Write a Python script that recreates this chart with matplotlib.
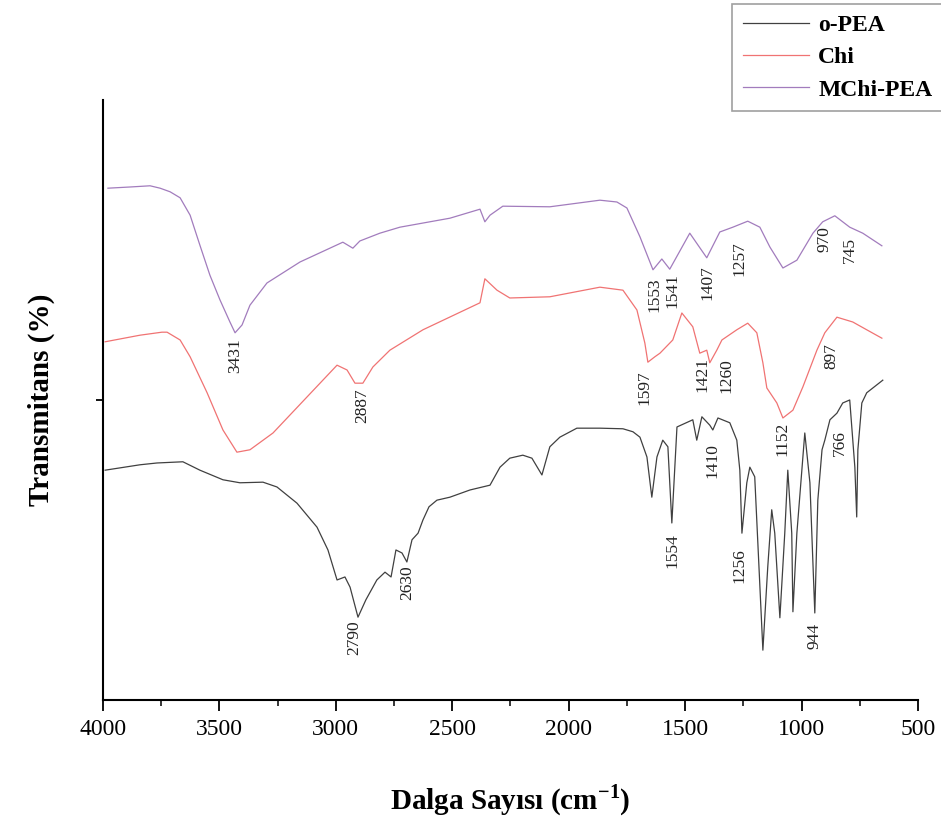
import matplotlib
matplotlib.use("Agg")
import matplotlib.pyplot as plt
from matplotlib.ticker import MultipleLocator

plt.rcParams['font.family'] = ['Liberation Serif', 'DejaVu Serif']

# MChi-PEA (mor)
wn_mchi = [3979, 3884, 3798, 3755, 3712, 3669, 3626, 3584, 3541, 3498, 3455, 3433, 3403,
           3369, 3296, 3154, 2970, 2927, 2897, 2811, 2725, 2510, 2381, 2360, 2338, 2283,
           2081, 1866, 1793, 1750, 1694, 1638, 1600, 1566, 1480, 1407, 1351, 1295, 1231,
           1179, 1136, 1080, 1020, 951, 909, 857, 793, 737, 655]
t_mchi = [85.3, 85.5, 85.7, 85.3, 84.7, 83.7, 80.8, 75.8, 70.8, 66.7, 63.0, 61.2, 62.5,
          65.8, 69.5, 73.0, 76.3, 75.3, 76.5, 77.8, 78.8, 80.3, 81.8, 79.7, 80.8, 82.3,
          82.2, 83.3, 83.0, 82.0, 77.2, 71.7, 73.5, 71.8, 77.8, 73.7, 78.0, 78.8, 79.8,
          78.8, 75.5, 72.0, 73.3, 77.8, 79.7, 80.7, 78.8, 77.8, 75.7]

# Chi (kirmizi)
wn_chi = [3991, 3841, 3747, 3725, 3669, 3626, 3553, 3485, 3425, 3369, 3270, 3124, 2995,
          2952, 2918, 2884, 2841, 2768, 2626, 2381, 2360, 2308, 2253, 2081, 1866, 1767,
          1707, 1673, 1660, 1630, 1608, 1553, 1514, 1467, 1437, 1407, 1394, 1364, 1342,
          1278, 1231, 1192, 1166, 1149, 1106, 1080, 1037, 994, 934, 900, 848, 780, 720, 655]
t_chi = [59.7, 60.8, 61.3, 61.3, 60.0, 57.2, 51.2, 45.0, 41.3, 41.7, 44.5, 50.5, 55.8,
         55.0, 52.8, 52.8, 55.5, 58.3, 61.7, 66.2, 70.2, 68.3, 67.0, 67.2, 68.8, 68.3,
         65.0, 59.5, 56.3, 57.2, 57.8, 60.0, 64.5, 62.2, 57.8, 58.3, 56.2, 58.3, 60.0,
         61.7, 62.8, 61.2, 56.2, 52.0, 49.5, 47.0, 48.3, 52.2, 58.3, 61.2, 63.8, 63.0, 61.7, 60.3]

# o-PEA (siyah)
wn_opea = [3991, 3841, 3768, 3657, 3584, 3485, 3412, 3313, 3253, 3167, 3081, 3034, 2995,
           2961, 2939, 2905, 2871, 2824, 2789, 2763, 2742, 2716, 2695, 2673, 2647, 2626,
           2600, 2566, 2510, 2424, 2338, 2295, 2253, 2197, 2158, 2115, 2081, 2038, 1965,
           1866, 1767, 1724, 1694, 1664, 1643, 1621, 1596, 1574, 1557, 1535, 1467, 1450,
           1428, 1394, 1381, 1359, 1308, 1278, 1265, 1256, 1235, 1222, 1201, 1166, 1145,
           1128, 1115, 1093, 1072, 1059, 1042, 1037, 1020, 986, 964, 943, 930, 912, 900,
           878, 848, 823, 793, 771, 763, 758, 741, 720, 651]
t_opea = [38.3, 39.2, 39.5, 39.7, 38.3, 36.7, 36.2, 36.3, 35.5, 32.8, 28.8, 25.0, 20.0,
          20.5, 18.8, 13.8, 16.7, 20.0, 21.3, 20.5, 25.0, 24.5, 23.0, 26.7, 27.8, 30.0,
          32.2, 33.3, 33.8, 35.0, 35.8, 38.8, 40.3, 40.8, 40.3, 37.5, 42.2, 43.8, 45.3,
          45.3, 45.2, 44.7, 43.8, 40.5, 33.8, 40.5, 43.3, 42.2, 29.5, 45.5, 46.7, 43.3,
          47.2, 45.8, 45.0, 47.0, 46.2, 43.3, 38.3, 27.8, 36.2, 38.8, 37.2, 8.3, 22.2,
          31.7, 27.8, 13.7, 27.8, 38.3, 27.8, 14.7, 27.8, 44.5, 36.2, 14.5, 33.3, 41.7, 43.3,
          46.7, 47.8, 49.5, 50.0, 38.8, 30.5, 41.7, 49.5, 51.2, 53.3]

# pik etiketleri
pik_yazi = ["3431", "2887", "2790", "2630", "1597", "1553", "1541", "1407", "1257", "970",
            "745", "1421", "1260", "897", "1152", "1410", "766", "1554", "1256", "944"]
pik_x = [3433, 2888, 2922, 2695, 1673, 1630, 1553, 1402, 1265, 900,
         793, 1424, 1321, 870, 1080, 1381, 836, 1553, 1265, 943]
pik_y = [60.3, 52.0, 13.2, 22.5, 55.0, 70.5, 71.2, 72.5, 76.5, 79.0,
         77.2, 57.2, 57.0, 59.5, 46.3, 42.8, 45.0, 27.8, 25.3, 12.8]

fig = plt.figure(figsize=(9.41, 8.23), dpi=100)
ax = fig.add_axes([0.1095, 0.1495, 0.866, 0.729])

l1, = ax.plot(wn_opea, t_opea, color='#404040', lw=0.9, label='o-PEA')
l2, = ax.plot(wn_chi, t_chi, color='#f07373', lw=0.9, label='Chi')
l3, = ax.plot(wn_mchi, t_mchi, color='#a27cbd', lw=0.9, label='MChi-PEA')

for s, x, y in zip(pik_yazi, pik_x, pik_y):
    ax.text(x, y, s, rotation=90, ha='center', va='top', fontsize=12.5, color='#222222')

ax.set_xlim(4000, 500)
ax.set_ylim(0, 100)
ax.xaxis.set_major_locator(MultipleLocator(500))
ax.xaxis.set_minor_locator(MultipleLocator(250))
ax.set_yticks([50])
ax.set_yticklabels([])
ax.tick_params(axis='x', which='major', direction='out', length=8, width=1.3, labelsize=17, pad=6)
ax.tick_params(axis='x', which='minor', direction='out', length=4, width=1.1)
ax.tick_params(axis='y', direction='out', length=5, width=1.3)

for k in ['top', 'right']:
    ax.spines[k].set_visible(False)
for k in ['left', 'bottom']:
    ax.spines[k].set_linewidth(1.5)

ax.set_xlabel('Dalga Sayısı (cm$^{\\mathregular{-1}}$)', fontsize=21, fontweight='bold', labelpad=30)
ax.set_ylabel('Transmitans (%)', fontsize=21, fontweight='bold', labelpad=26)

leg = ax.legend(handles=[l1, l2, l3], loc='upper left', bbox_to_anchor=(0.778, 0.995),
                bbox_transform=fig.transFigure, borderaxespad=0, fancybox=False,
                edgecolor='#888888', handlelength=2.8, handletextpad=0.4,
                labelspacing=0.45, borderpad=0.45,
                prop={'weight': 'bold', 'size': 17})
leg.get_frame().set_linewidth(1.2)

fig.savefig('out.png', dpi=100)
